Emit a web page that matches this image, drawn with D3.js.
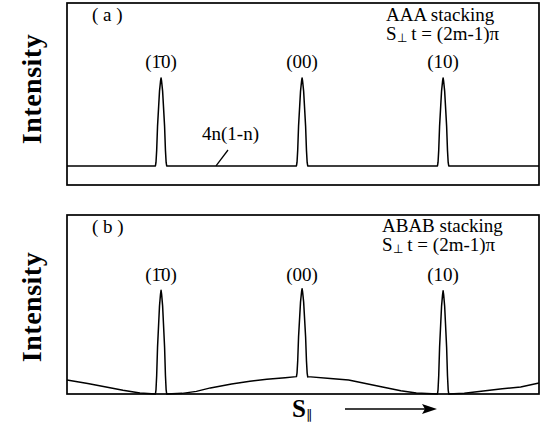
<!DOCTYPE html>
<html>
<head>
<meta charset="utf-8">
<script src="https://cdn.jsdelivr.net/npm/d3@7"></script>
<style>
  html, body { margin: 0; padding: 0; background: #fff; }
  svg { display: block; }
  text { font-family: "Liberation Serif", "Times New Roman", serif; fill: #000; }
</style>
</head>
<body>
<svg id="chart" width="545" height="423"></svg>
<script>
// ---------------- data ----------------
const hDomain = [-1.667, 1.68];                 // S_parallel in reciprocal lattice units
const peakH = [-1, 0, 1];
const peakLabels = ["(1\u03040)", "(00)", "(10)"];
// peak profile: [offset in h, fraction of peak height above local background]
const peakProfile = [
  [-0.040, 0.00], [-0.036, 0.04], [-0.031, 0.18], [-0.025, 0.45],
  [-0.017, 0.68], [-0.011, 0.85], [-0.004, 0.96], [0, 1.00],
  [0.004, 0.96], [0.011, 0.85], [0.017, 0.68], [0.025, 0.45],
  [0.031, 0.18], [0.036, 0.04], [0.040, 0.00]
];
// panel (a): AAA stacking
const aBackground = [[-1.667, 0.178], [1.68, 0.178]];
const aPeakBase = [0.178, 0.178, 0.178];
const aPeakTop = [1.0, 1.0, 1.0];
// panel (b): ABAB stacking
const bBackground = [
  [-1.667, 0.133], [-1.52, 0.100], [-1.39, 0.067], [-1.27, 0.035], [-1.15, 0.010], [-1.04, 0.0],
  [-0.96, 0.0], [-0.85, 0.006], [-0.75, 0.025], [-0.65, 0.058], [-0.5, 0.095], [-0.37, 0.120],
  [-0.25, 0.140], [-0.12, 0.155], [-0.04, 0.165],
  [0.04, 0.162], [0.2, 0.148], [0.33, 0.133], [0.45, 0.100], [0.57, 0.067], [0.7, 0.030],
  [0.81, 0.010], [0.96, 0.0],
  [1.04, 0.0], [1.15, 0.008], [1.3, 0.030], [1.42, 0.050], [1.55, 0.067], [1.68, 0.105]
];
const bPeakBase = [0.0, 0.165, 0.0];
const bPeakTop = [0.985, 1.0, 0.98];

const panelTags = ["( a )", "( b )"];
const stackingLabels = ["AAA stacking", "ABAB stacking"];
const yLabel = "Intensity";
const annotation = "4n(1-n)";

// ---------------- drawing ----------------
const svg = d3.select("#chart");
const x = d3.scaleLinear().domain(hDomain).range([67, 539]);

function buildSeries(background, base, top) {
  const pts = background.filter(([h]) => !peakH.some(p => Math.abs(h - p) < 0.039));
  peakH.forEach((p, i) => {
    peakProfile.forEach(([dh, f]) => pts.push([p + dh, base[i] + f * (top[i] - base[i])]));
  });
  return pts.sort((a, b) => a[0] - b[0]);
}

const panels = [
  { top: 3, bottom: 185, bg: aBackground, base: aPeakBase, peak: aPeakTop,
    tagY: 21, stackY: 21, condY: 40, stackX: 386, labelY: 68, ylabY: 89 },
  { top: 215, bottom: 394, bg: bBackground, base: bPeakBase, peak: bPeakTop,
    tagY: 233, stackY: 232, condY: 251, stackX: 382, labelY: 281, ylabY: 307 }
];

panels.forEach((P, k) => {
  const y = d3.scaleLinear().domain([0, 1.7]).range([P.bottom, P.top]);
  const g = svg.append("g");

  g.append("rect")
    .attr("x", x.range()[0]).attr("y", P.top)
    .attr("width", x.range()[1] - x.range()[0]).attr("height", P.bottom - P.top)
    .attr("fill", "none").attr("stroke", "#000").attr("stroke-width", 1.7);

  const series = buildSeries(P.bg, P.base, P.peak);
  g.append("path")
    .datum(series)
    .attr("fill", "none").attr("stroke", "#000").attr("stroke-width", 1.5)
    .attr("stroke-linejoin", "round")
    .attr("d", d3.line().x(d => x(d[0])).y(d => y(d[1])));

  // panel tag
  g.append("text").attr("x", 92).attr("y", P.tagY)
    .attr("font-size", 19).attr("xml:space", "preserve").text(panelTags[k]);

  // stacking labels
  g.append("text").attr("x", P.stackX).attr("y", P.stackY)
    .attr("font-size", 19).text(stackingLabels[k]);
  const cond = g.append("text").attr("x", P.stackX).attr("y", P.condY).attr("font-size", 19);
  cond.append("tspan").text("S");
  cond.append("tspan").attr("font-size", 12).attr("dy", 2).text("\u22A5");
  cond.append("tspan").attr("dy", -2).text(" t = (2m-1)\u03C0");

  // peak labels
  peakH.forEach((p, i) => {
    g.append("text").attr("x", x(p)).attr("y", P.labelY)
      .attr("text-anchor", "middle").attr("font-size", 19).text(peakLabels[i]);
  });

  // y label
  g.append("text")
    .attr("transform", `translate(41,${P.ylabY}) rotate(-90)`)
    .attr("text-anchor", "middle").attr("font-size", 28).attr("font-weight", "bold")
    .attr("letter-spacing", 0.5)
    .text(yLabel);

  if (k === 0) {
    // 4n(1-n) annotation with leader line
    g.append("text").attr("x", 202).attr("y", 140).attr("font-size", 19).text(annotation);
    g.append("line")
      .attr("x1", 228).attr("y1", 150).attr("x2", 216).attr("y2", y(aBackground[0][1]))
      .attr("stroke", "#000").attr("stroke-width", 1.3);
  } else {
    // S_parallel axis title and arrow
    const st = g.append("text").attr("x", 292).attr("y", 417)
      .attr("font-size", 25).attr("font-weight", "bold");
    st.append("tspan").text("S");
    st.append("tspan").attr("font-size", 13).attr("font-weight", "normal").attr("dy", 2).text("\u2225");
    g.append("line").attr("x1", 345).attr("y1", 409).attr("x2", 425).attr("y2", 409)
      .attr("stroke", "#000").attr("stroke-width", 1.4);
    g.append("path").attr("d", "M437,409 L422,404 L425,409 L422,414 Z").attr("fill", "#000");
  }
});
</script>
</body>
</html>
